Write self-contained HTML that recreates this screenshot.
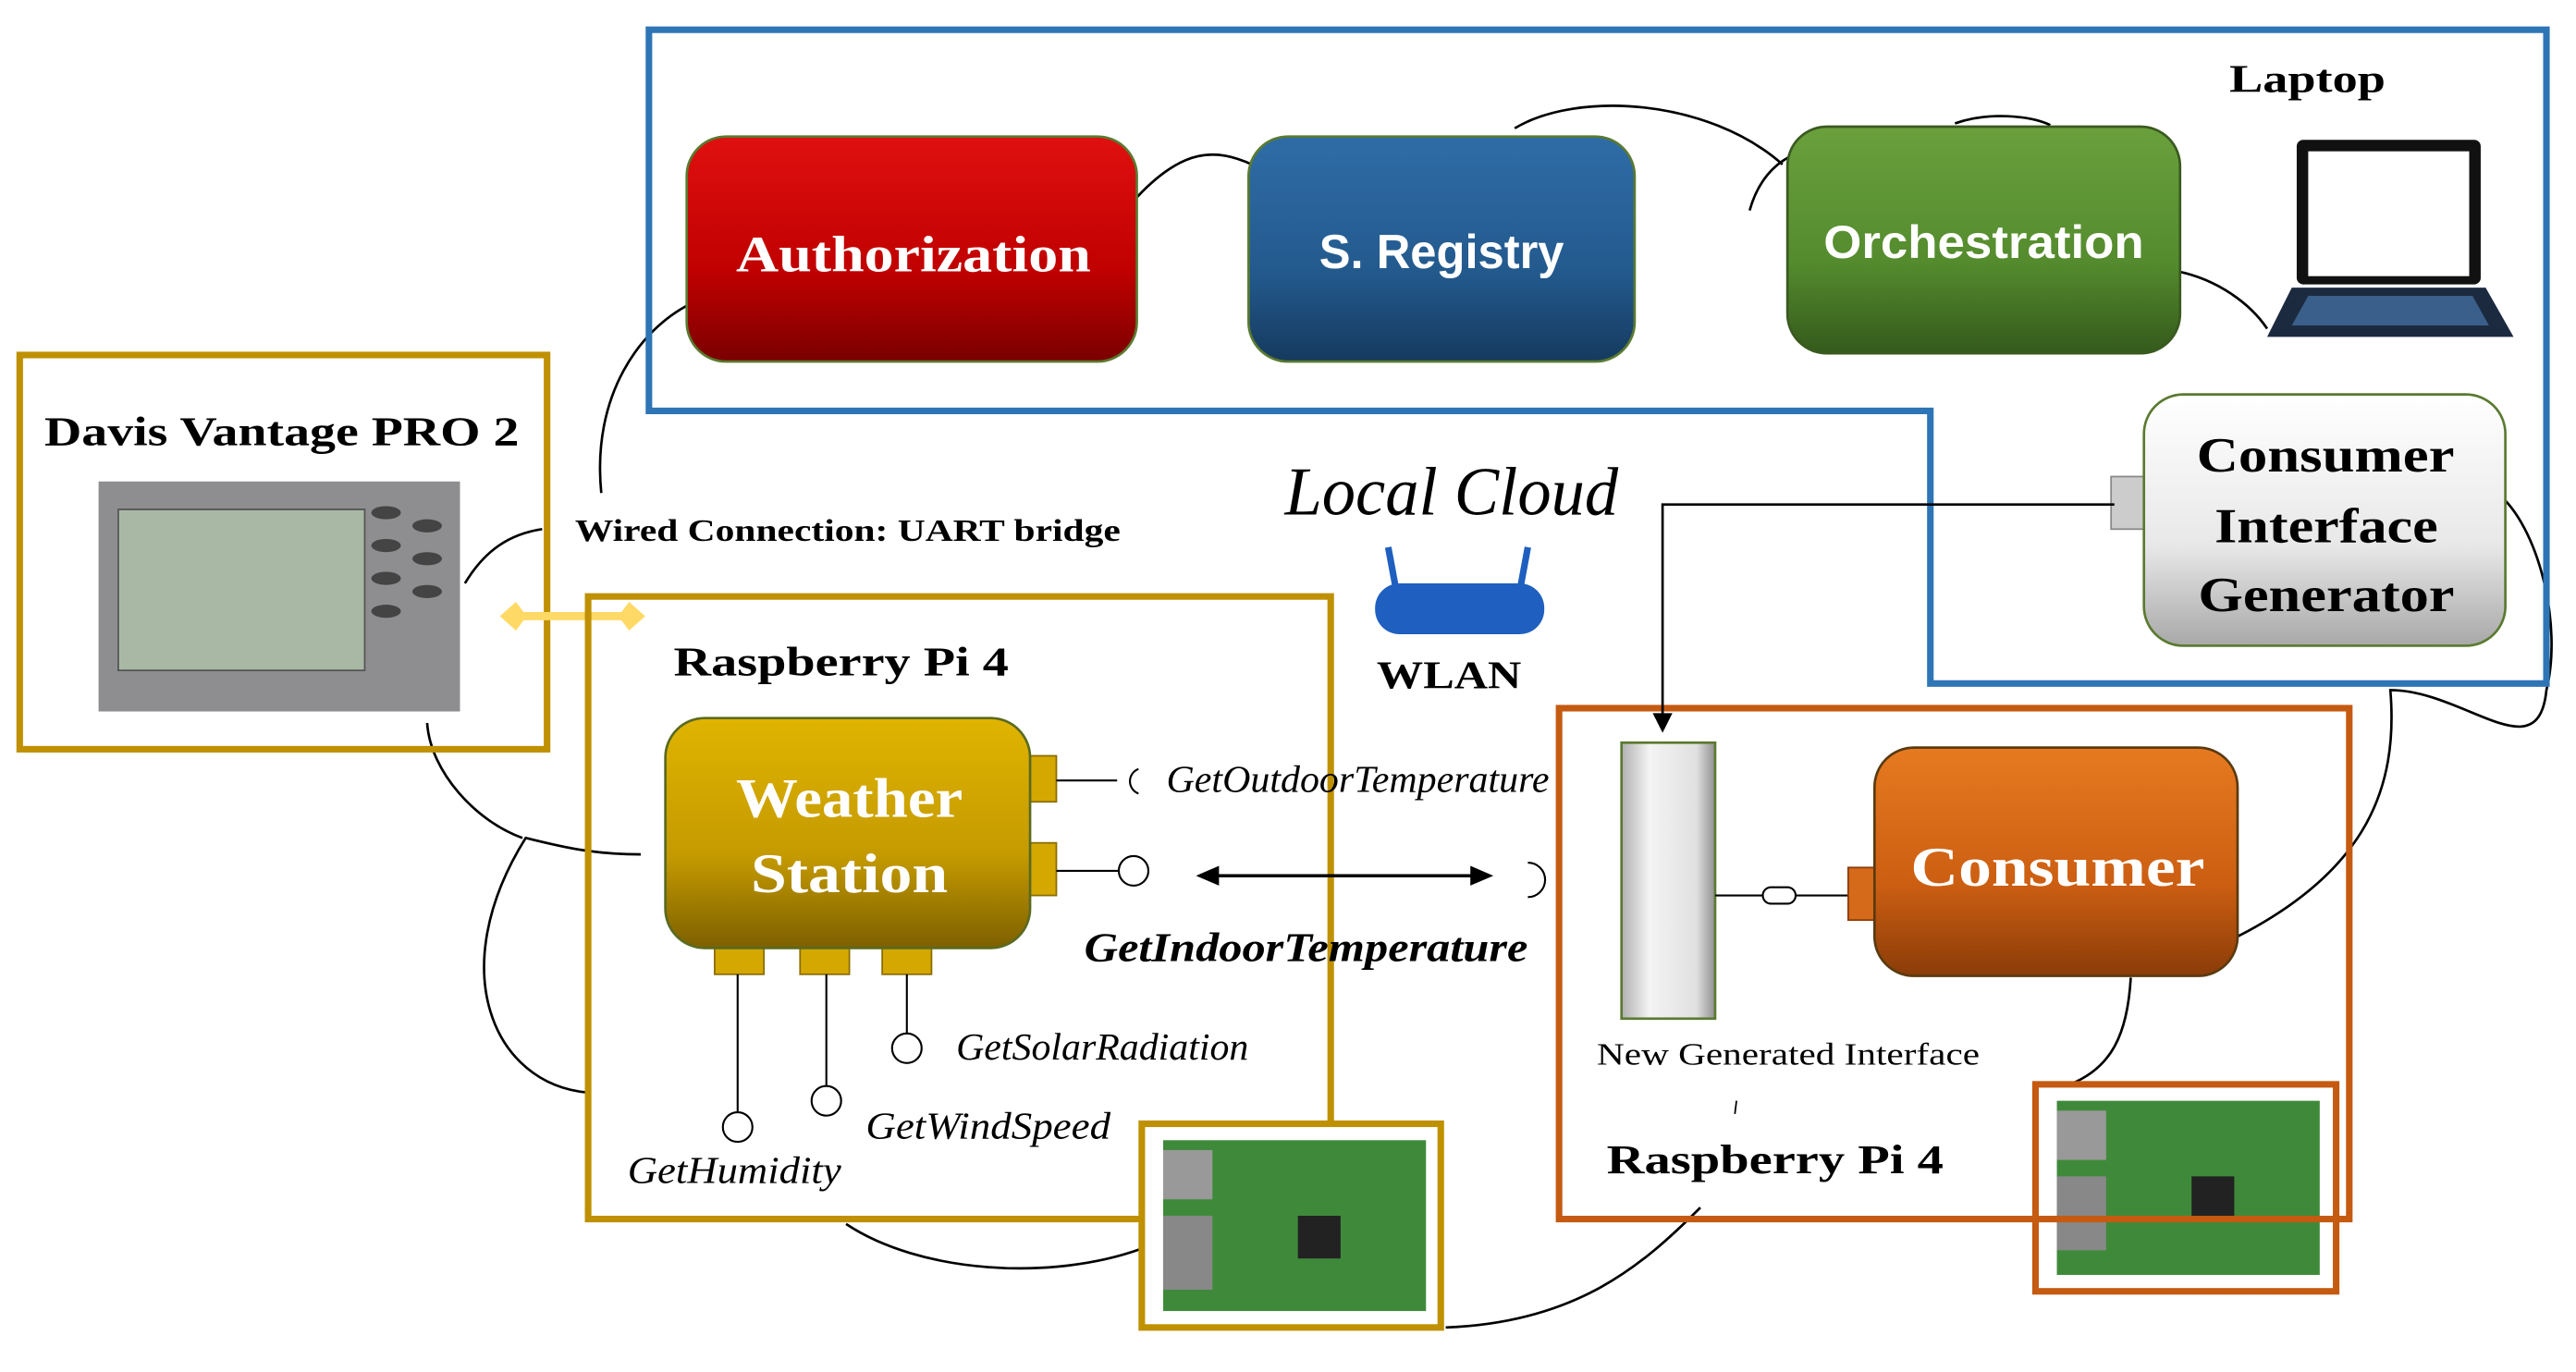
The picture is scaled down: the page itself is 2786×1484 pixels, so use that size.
<!DOCTYPE html>
<html><head><meta charset="utf-8"><style>
html,body{margin:0;padding:0;background:#fff;}
svg{display:block;}
.serif{font-family:"Liberation Serif",serif;}
.sans{font-family:"Liberation Sans",sans-serif;}
</style></head><body>
<svg width="2786" height="1484" viewBox="0 0 1568 835" xmlns="http://www.w3.org/2000/svg">
<defs>
<linearGradient id="gr" x1="0" y1="0" x2="0" y2="1"><stop offset="0" stop-color="#e01010"/><stop offset="0.6" stop-color="#c00000"/><stop offset="1" stop-color="#7a0000"/></linearGradient>
<linearGradient id="gb" x1="0" y1="0" x2="0" y2="1"><stop offset="0" stop-color="#2f6ca6"/><stop offset="0.6" stop-color="#235a8e"/><stop offset="1" stop-color="#153a5e"/></linearGradient>
<linearGradient id="gg" x1="0" y1="0" x2="0" y2="1"><stop offset="0" stop-color="#6aa03c"/><stop offset="0.6" stop-color="#548b2e"/><stop offset="1" stop-color="#355a1c"/></linearGradient>
<linearGradient id="gy" x1="0" y1="0" x2="0" y2="1"><stop offset="0" stop-color="#e0b400"/><stop offset="0.6" stop-color="#c49a00"/><stop offset="1" stop-color="#7d6000"/></linearGradient>
<linearGradient id="go" x1="0" y1="0" x2="0" y2="1"><stop offset="0" stop-color="#e67a20"/><stop offset="0.6" stop-color="#cc5e12"/><stop offset="1" stop-color="#8a3c08"/></linearGradient>
<linearGradient id="gw" x1="0" y1="0" x2="0" y2="1"><stop offset="0" stop-color="#ffffff"/><stop offset="0.6" stop-color="#e8e8e8"/><stop offset="1" stop-color="#a8a8a8"/></linearGradient>
<linearGradient id="gw2" x1="0" y1="0" x2="1" y2="0"><stop offset="0" stop-color="#b0b0b0"/><stop offset="0.3" stop-color="#f4f4f4"/><stop offset="0.8" stop-color="#e0e0e0"/><stop offset="1" stop-color="#909090"/></linearGradient>
</defs>

<g fill="none" stroke="#000" stroke-width="1.5">
<path d="M366,300 C360,240 390,200 420,185"/>
<path d="M692,120 C720,90 740,90 762,100"/>
<path d="M922,78 C960,55 1040,60 1085,100 M1065,128 C1070,110 1080,100 1090,95"/>
<path d="M1190,75 C1210,68 1235,70 1248,76"/>
<path d="M1325,165 C1350,170 1370,185 1380,200"/>
<path d="M1520,300 C1545,320 1560,380 1550,420 C1545,470 1500,420 1455,420 C1460,480 1440,530 1362,570"/>
<path d="M1297,595 C1295,630 1285,650 1260,660"/>
<path d="M1035,735 C1000,770 960,805 880,808"/>
<path d="M695,760 C640,780 560,775 515,745"/>
<path d="M358,665 C300,660 270,590 320,510 C340,515 360,520 390,520"/>
<path d="M318,510 C290,500 262,470 260,440"/>
<path d="M283,355 C295,335 310,325 330,322"/>
</g>

<path d="M395,18 H1550 V416 H1175 V250 H395 Z" fill="none" stroke="#2e75b6" stroke-width="4"/>
<text x="1357" y="56" class="serif" font-size="24" font-weight="bold" textLength="95" lengthAdjust="spacingAndGlyphs">Laptop</text>

<rect x="418" y="83" width="274" height="137" rx="24" fill="url(#gr)" stroke="#5a7a30" stroke-width="1.5"/>
<text x="448" y="165" class="serif" font-size="31" font-weight="bold" fill="#fff" textLength="216" lengthAdjust="spacingAndGlyphs">Authorization</text>
<rect x="760" y="83" width="235" height="137" rx="24" fill="url(#gb)" stroke="#5a7a30" stroke-width="1.5"/>
<text x="803" y="163" class="sans" font-size="29" font-weight="bold" fill="#fff" textLength="149" lengthAdjust="spacingAndGlyphs">S. Registry</text>
<rect x="1088" y="77" width="239" height="138" rx="24" fill="url(#gg)" stroke="#3a5a20" stroke-width="1.5"/>
<text x="1110" y="157" class="sans" font-size="28" font-weight="bold" fill="#fff" textLength="195" lengthAdjust="spacingAndGlyphs">Orchestration</text>

<rect x="1398" y="85" width="112" height="88" rx="4" fill="#111"/>
<rect x="1405" y="92" width="98" height="76" fill="#fff"/>
<path d="M1395,175 H1513 L1530,205 H1380 Z" fill="#1c2a40"/>
<path d="M1405,180 H1505 L1515,198 H1395 Z" fill="#3a5f8a"/>

<rect x="1285" y="290" width="22" height="32" fill="#ccc" stroke="#888"/>
<rect x="1305" y="240" width="220" height="153" rx="24" fill="url(#gw)" stroke="#5a7a30" stroke-width="1.5"/>
<g class="serif" font-size="30" font-weight="bold">
<text x="1337" y="287" textLength="157" lengthAdjust="spacingAndGlyphs">Consumer</text>
<text x="1348" y="330" textLength="136" lengthAdjust="spacingAndGlyphs">Interface</text>
<text x="1338" y="372" textLength="156" lengthAdjust="spacingAndGlyphs">Generator</text>
</g>

<rect x="12" y="216" width="321" height="240" fill="none" stroke="#bf9000" stroke-width="4"/>
<text x="27" y="271" class="serif" font-size="25" font-weight="bold" textLength="289" lengthAdjust="spacingAndGlyphs">Davis Vantage PRO 2</text>
<rect x="60" y="293" width="220" height="140" fill="#8e8e90"/>
<rect x="72" y="310" width="150" height="98" fill="#a9b8a5" stroke="#555"/>
<g fill="#444"><ellipse cx="235" cy="312" rx="9" ry="4"/><ellipse cx="235" cy="332" rx="9" ry="4"/><ellipse cx="235" cy="352" rx="9" ry="4"/><ellipse cx="235" cy="372" rx="9" ry="4"/><ellipse cx="260" cy="320" rx="9" ry="4"/><ellipse cx="260" cy="340" rx="9" ry="4"/><ellipse cx="260" cy="360" rx="9" ry="4"/></g>
<text x="350" y="329" class="serif" font-size="19" font-weight="bold" textLength="332" lengthAdjust="spacingAndGlyphs">Wired Connection: UART bridge</text>
<g fill="#ffd966" stroke="#ffd966"><line x1="312" y1="375" x2="385" y2="375" stroke-width="5"/><path d="M305,375 L314,367 L320,375 L314,383 Z"/><path d="M392,375 L383,367 L377,375 L383,383 Z"/></g>

<rect x="358" y="363" width="452" height="379" fill="none" stroke="#bf9000" stroke-width="4"/>
<text x="410" y="411" class="serif" font-size="25" font-weight="bold" textLength="204" lengthAdjust="spacingAndGlyphs">Raspberry Pi 4</text>
<g fill="#d4a800" stroke="#8a6d00" stroke-width="1"><rect x="625" y="460" width="18" height="28"/><rect x="625" y="513" width="18" height="32"/><rect x="435" y="575" width="30" height="18"/><rect x="487" y="575" width="30" height="18"/><rect x="537" y="575" width="30" height="18"/></g>
<rect x="405" y="437" width="222" height="140" rx="24" fill="url(#gy)" stroke="#5a6a20" stroke-width="1.5"/>
<g class="serif" font-size="34" font-weight="bold" fill="#fff">
<text x="448" y="497" textLength="138" lengthAdjust="spacingAndGlyphs">Weather</text>
<text x="457" y="543" textLength="120" lengthAdjust="spacingAndGlyphs">Station</text>
</g>
<g fill="none" stroke="#000" stroke-width="1.2">
<line x1="643" y1="475" x2="680" y2="475"/><path d="M693,468 A8,8 0 0 0 693,483"/>
<line x1="643" y1="530" x2="681" y2="530"/><circle cx="690" cy="530" r="9"/>
<line x1="449" y1="593" x2="449" y2="677"/><circle cx="449" cy="686" r="9"/>
<line x1="503" y1="593" x2="503" y2="661"/><circle cx="503" cy="670" r="9"/>
<line x1="552" y1="593" x2="552" y2="629"/><circle cx="552" cy="638" r="9"/>
<path d="M930,525 A10,10 0 0 1 930,546"/>
</g>
<line x1="735" y1="533" x2="902" y2="533" stroke="#000" stroke-width="2"/>
<path d="M728,533 L742,527 L742,539 Z M909,533 L895,527 L895,539 Z" fill="#000"/>
<g class="serif" font-style="italic" font-size="23">
<text x="710" y="482" textLength="233" lengthAdjust="spacingAndGlyphs">GetOutdoorTemperature</text>
<text x="582" y="645" textLength="178" lengthAdjust="spacingAndGlyphs">GetSolarRadiation</text>
<text x="527" y="693" textLength="149" lengthAdjust="spacingAndGlyphs">GetWindSpeed</text>
<text x="382" y="720" textLength="130" lengthAdjust="spacingAndGlyphs">GetHumidity</text>
</g>
<text x="660" y="585" class="serif" font-style="italic" font-weight="bold" font-size="25" textLength="270" lengthAdjust="spacingAndGlyphs">GetIndoorTemperature</text>

<rect x="695" y="684" width="182" height="124" fill="#fff" stroke="#bf9000" stroke-width="4"/>
<rect x="708" y="694" width="160" height="104" fill="#3f8a3a"/>
<rect x="708" y="700" width="30" height="30" fill="#999"/><rect x="708" y="740" width="30" height="45" fill="#888"/><rect x="790" y="740" width="26" height="26" fill="#222"/>
<rect x="1239" y="660" width="183" height="126" fill="#fff" stroke="#c55a11" stroke-width="4"/>
<rect x="1252" y="670" width="160" height="106" fill="#3f8a3a"/>
<rect x="1252" y="676" width="30" height="30" fill="#999"/><rect x="1252" y="716" width="30" height="45" fill="#888"/><rect x="1334" y="716" width="26" height="26" fill="#222"/>

<text x="782" y="313" class="serif" font-style="italic" font-size="42" textLength="203" lengthAdjust="spacingAndGlyphs">Local Cloud</text>
<line x1="850" y1="360" x2="845" y2="333" stroke="#1f5fbf" stroke-width="4"/>
<line x1="925" y1="360" x2="930" y2="333" stroke="#1f5fbf" stroke-width="4"/>
<rect x="837" y="355" width="103" height="31" rx="15" fill="#1f5fbf"/>
<text x="838" y="419" class="serif" font-size="24" font-weight="bold" textLength="88" lengthAdjust="spacingAndGlyphs">WLAN</text>

<rect x="949" y="431" width="481" height="311" fill="none" stroke="#c55a11" stroke-width="4"/>
<path d="M1287,307 H1012 V437" fill="none" stroke="#000" stroke-width="1.5"/>
<path d="M1012,446 L1006,434 L1018,434 Z" fill="#000"/>
<rect x="987" y="452" width="57" height="168" fill="url(#gw2)" stroke="#5a7a30" stroke-width="1.5"/>
<line x1="1044" y1="545" x2="1125" y2="545" stroke="#000" stroke-width="1.2"/>
<rect x="1073" y="540" width="20" height="10" rx="5" fill="#fff" stroke="#000" stroke-width="1.2"/>
<rect x="1125" y="528" width="20" height="32" fill="#d46a1a" stroke="#8a3c08"/>
<rect x="1141" y="455" width="221" height="139" rx="24" fill="url(#go)" stroke="#5a3a10" stroke-width="1.5"/>
<text x="1163" y="539" class="serif" font-size="34" font-weight="bold" fill="#fff" textLength="179" lengthAdjust="spacingAndGlyphs">Consumer</text>
<text x="972" y="648" class="serif" font-size="19" textLength="233" lengthAdjust="spacingAndGlyphs">New Generated Interface</text>
<line x1="1057" y1="670" x2="1056" y2="678" stroke="#000"/>
<text x="978" y="714" class="serif" font-size="25" font-weight="bold" textLength="205" lengthAdjust="spacingAndGlyphs">Raspberry Pi 4</text>
</svg>
</body></html>
